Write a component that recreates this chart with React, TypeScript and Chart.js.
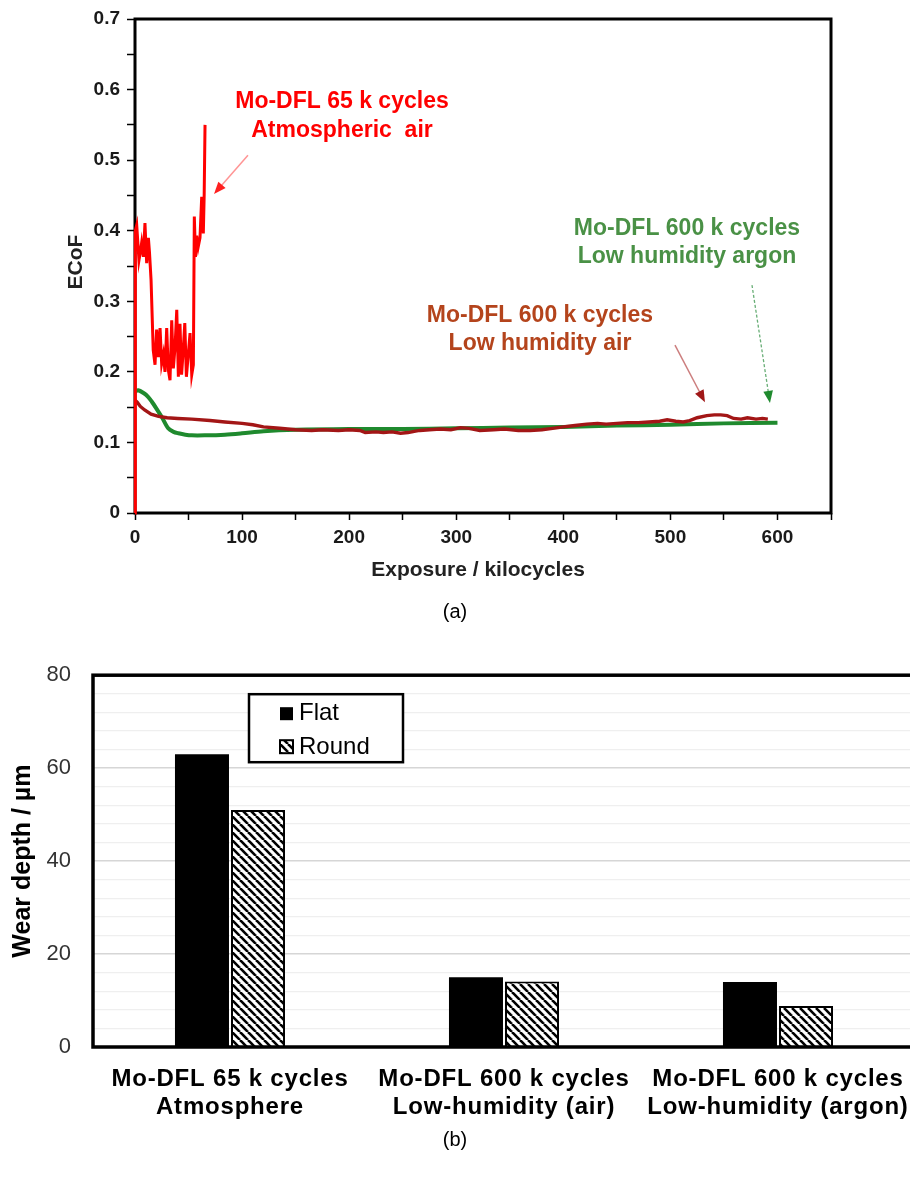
import React, { useEffect, useRef } from 'react';
import { Chart, registerables } from 'chart.js';

Chart.register(...registerables);

const FONT = '"Liberation Sans", Arial, Helvetica, sans-serif';

// ---- Panel (a): ECoF vs exposure ----
const redX = [0, 0.3, 1.6, 2.8, 3.7, 5, 6.2, 7.8, 9.3, 10.9, 12.5, 13.5, 15, 17, 18.7, 20.2, 21.8, 23.4, 24.9, 26.5, 28, 29.6, 31.1, 32.7, 34.3, 35.8, 37.4, 39, 40.5, 42, 43.5, 45, 46.5, 48, 49.5, 51.4, 53, 54.5, 55.4, 56.5, 57.6, 59, 60.7, 62.3, 63.8, 64.6, 65.4];
const redY = [0, 0.40, 0.408, 0.38, 0.358, 0.37, 0.383, 0.363, 0.411, 0.354, 0.39, 0.37, 0.33, 0.231, 0.21, 0.26, 0.221, 0.262, 0.212, 0.225, 0.2, 0.262, 0.203, 0.188, 0.273, 0.205, 0.235, 0.288, 0.193, 0.268, 0.196, 0.23, 0.269, 0.193, 0.22, 0.255, 0.196, 0.21, 0.42, 0.363, 0.393, 0.377, 0.39, 0.448, 0.396, 0.45, 0.55];

const airX = [0, 2, 5, 9, 15, 22, 30, 40, 53, 70, 84, 100, 110, 120, 135, 150, 165, 175, 190, 200, 210, 215, 225, 232, 240, 248, 255, 262, 266, 275, 285, 295, 304, 312, 322, 335, 345, 358, 369, 380, 390, 400, 411, 422, 432, 440, 450, 460, 470, 480, 490, 497, 505, 512, 518, 525, 534, 541, 547, 553, 559, 566, 572, 580, 586, 591];
const airY = [0.16, 0.157, 0.151, 0.146, 0.14, 0.137, 0.135, 0.134, 0.133, 0.131, 0.129, 0.127, 0.125, 0.122, 0.12, 0.118, 0.117, 0.118, 0.117, 0.118, 0.117, 0.114, 0.115, 0.114, 0.115, 0.113, 0.114, 0.116, 0.117, 0.118, 0.119, 0.118, 0.121, 0.12, 0.117, 0.118, 0.119, 0.117, 0.117, 0.118, 0.12, 0.122, 0.124, 0.126, 0.127, 0.126, 0.127, 0.128, 0.128, 0.129, 0.13, 0.132, 0.13, 0.129, 0.131, 0.135, 0.138, 0.139, 0.139, 0.138, 0.134, 0.133, 0.135, 0.133, 0.134, 0.133];

const argonX = [0, 3, 8, 12, 15.6, 20, 25, 31, 36, 40.5, 47, 53, 65, 84, 100, 120, 150, 200, 250, 300, 350, 400, 450, 500, 550, 600];
const argonY = [0.172, 0.174, 0.17, 0.165, 0.158, 0.148, 0.136, 0.12, 0.115, 0.113, 0.111, 0.11, 0.11, 0.111, 0.113, 0.116, 0.118, 0.119, 0.119, 0.12, 0.121, 0.122, 0.124, 0.125, 0.127, 0.128];

const redLabel = ['Mo-DFL 65 k cycles', 'Atmospheric  air'];
const airLabel = ['Mo-DFL 600 k cycles', 'Low humidity air'];
const argonLabel = ['Mo-DFL 600 k cycles', 'Low humidity argon'];

// ---- Panel (b): wear depth ----
const barCategories = [
  ['Mo-DFL 65 k cycles', 'Atmosphere'],
  ['Mo-DFL 600 k cycles', 'Low-humidity (air)'],
  ['Mo-DFL 600 k cycles', 'Low-humidity (argon)'],
];
const flatDepth = [63, 15, 14];
const roundDepth = [51, 14.1, 8.8];
const seriesNames = ['Flat', 'Round'];

function pts(xs: number[], ys: number[]) {
  const n = Math.min(xs.length, ys.length);
  const out: { x: number; y: number }[] = [];
  for (let i = 0; i < n; i++) out.push({ x: xs[i], y: ys[i] });
  return out;
}

function arrow(ctx: CanvasRenderingContext2D, x1: number, y1: number, x2: number, y2: number, lineColor: string, headColor: string, width: number, dash: number[], head: number) {
  const ang = Math.atan2(y2 - y1, x2 - x1);
  ctx.save();
  ctx.strokeStyle = lineColor;
  ctx.lineWidth = width;
  ctx.setLineDash(dash);
  ctx.beginPath();
  ctx.moveTo(x1, y1);
  ctx.lineTo(x2 - Math.cos(ang) * head * 0.8, y2 - Math.sin(ang) * head * 0.8);
  ctx.stroke();
  ctx.setLineDash([]);
  ctx.fillStyle = headColor;
  ctx.beginPath();
  ctx.moveTo(x2, y2);
  ctx.lineTo(x2 - head * Math.cos(ang - 0.38), y2 - head * Math.sin(ang - 0.38));
  ctx.lineTo(x2 - head * Math.cos(ang + 0.38), y2 - head * Math.sin(ang + 0.38));
  ctx.closePath();
  ctx.fill();
  ctx.restore();
}

function makeHatch(): CanvasPattern | string {
  const s = 8;
  const c = document.createElement('canvas');
  c.width = s;
  c.height = s;
  const g = c.getContext('2d');
  if (!g) return '#fff';
  g.fillStyle = '#fff';
  g.fillRect(0, 0, s, s);
  g.strokeStyle = '#000';
  g.lineWidth = 2.6;
  for (const o of [-s, 0, s]) {
    g.beginPath();
    g.moveTo(o, 0);
    g.lineTo(o + s, s);
    g.stroke();
  }
  const p = g.createPattern(c, 'repeat');
  return p || '#fff';
}

const topDecor = {
  id: 'topDecor',
  beforeDatasetsDraw(chart: any) {
    const { ctx, chartArea: a } = chart;
    ctx.save();
    ctx.strokeStyle = '#000';
    ctx.lineWidth = 3;
    ctx.strokeRect(a.left, a.top, a.right - a.left, a.bottom - a.top);
    ctx.restore();
  },
  afterDraw(chart: any) {
    const { ctx } = chart;
    const xs = chart.scales.x;
    const ys = chart.scales.y;
    const X = (v: number) => xs.getPixelForValue(v);
    const Y = (v: number) => ys.getPixelForValue(v);
    ctx.save();
    ctx.font = `bold 23px ${FONT}`;
    ctx.textAlign = 'center';
    ctx.textBaseline = 'alphabetic';
    ctx.fillStyle = '#ff0000';
    ctx.fillText(redLabel[0], X(193.3), Y(0.574));
    ctx.fillText(redLabel[1], X(193.3), Y(0.533));
    ctx.fillStyle = '#b4441c';
    ctx.fillText(airLabel[0], X(378.2), Y(0.271));
    ctx.fillText(airLabel[1], X(378.2), Y(0.231));
    ctx.fillStyle = '#4a9146';
    ctx.fillText(argonLabel[0], X(515.5), Y(0.394));
    ctx.fillText(argonLabel[1], X(515.5), Y(0.354));

    // axis titles
    ctx.fillStyle = '#222';
    ctx.font = `bold 21px ${FONT}`;
    ctx.textBaseline = 'middle';
    ctx.fillText('Exposure / kilocycles', (chart.chartArea.left + chart.chartArea.right) / 2 - 5, 570);
    ctx.save();
    ctx.translate(76, 262);
    ctx.rotate(-Math.PI / 2);
    ctx.fillText('ECoF', 0, 0);
    ctx.restore();

    ctx.font = `20px ${FONT}`;
    ctx.fillStyle = '#000';
    ctx.fillText('(a)', 455, 612);
    ctx.restore();

    arrow(ctx, X(105.5), Y(0.507), X(73.8), Y(0.452), 'rgba(255,60,60,0.55)', '#ff2020', 1.5, [], 13);
    arrow(ctx, X(504.3), Y(0.238), X(532.3), Y(0.157), 'rgba(170,40,40,0.6)', '#a01818', 1.5, [], 13);
    arrow(ctx, X(576.2), Y(0.323), X(593), Y(0.156), 'rgba(40,140,60,0.7)', '#1f8a2e', 1.3, [3, 2], 13);
  },
};

const bottomDecor = {
  id: 'bottomDecor',
  afterDatasetsDraw(chart: any) {
    const { ctx, chartArea: a } = chart;
    ctx.save();
    ctx.strokeStyle = '#000';
    ctx.lineWidth = 3.5;
    ctx.strokeRect(a.left, a.top, a.right - a.left, a.bottom - a.top);
    ctx.restore();
  },
  afterDraw(chart: any) {
    const { ctx } = chart;
    const xs = chart.scales.x;
    const ys = chart.scales.y;
    const top = ys.getPixelForValue(80);
    ctx.save();
    // x category labels
    ctx.fillStyle = '#000';
    ctx.font = `bold 24px ${FONT}`;
    (ctx as any).letterSpacing = '0.8px';
    ctx.textAlign = 'center';
    ctx.textBaseline = 'middle';
    barCategories.forEach((lines, i) => {
      const cx = xs.getPixelForValue(i);
      lines.forEach((t, j) => ctx.fillText(t, cx, 439 + j * 28));
    });
    (ctx as any).letterSpacing = '0px';

    // y title
    ctx.save();
    ctx.font = `bold 25px ${FONT}`;
    ctx.translate(23, (chart.chartArea.top + chart.chartArea.bottom) / 2);
    ctx.rotate(-Math.PI / 2);
    ctx.fillText('Wear depth / µm', 0, 0);
    ctx.restore();

    // (b)
    ctx.font = `20px ${FONT}`;
    ctx.fillText('(b)', 455, 500);

    // legend
    const lx = 249, ly = top + 19, lw = 154, lh = 68;
    ctx.fillStyle = '#fff';
    ctx.fillRect(lx, ly, lw, lh);
    ctx.strokeStyle = '#000';
    ctx.lineWidth = 2.5;
    ctx.strokeRect(lx, ly, lw, lh);
    ctx.fillStyle = '#000';
    ctx.fillRect(280, ly + 13, 13, 13);
    const ds = chart.data.datasets[1];
    ctx.fillStyle = ds.backgroundColor;
    ctx.fillRect(280, ly + 46, 13, 13);
    ctx.lineWidth = 2;
    ctx.strokeRect(280, ly + 46, 13, 13);
    ctx.fillStyle = '#000';
    ctx.font = `24px ${FONT}`;
    ctx.textAlign = 'left';
    ctx.textBaseline = 'alphabetic';
    ctx.fillText(seriesNames[0], 299, ly + 26);
    ctx.fillText(seriesNames[1], 299, ly + 60);
    ctx.restore();
  },
};

export default function App() {
  const topRef = useRef<HTMLCanvasElement>(null);
  const botRef = useRef<HTMLCanvasElement>(null);

  useEffect(() => {
    if (!topRef.current || !botRef.current) return;
    const tickFontTop = { family: FONT, size: 19, weight: 'bold' as const };

    const top = new Chart(topRef.current, {
      type: 'line',
      data: {
        datasets: [
          { label: 'Atmospheric air', data: pts(redX, redY), borderColor: '#ff0000', borderWidth: 3, pointRadius: 0, tension: 0, clip: 6 },
          { label: 'Low humidity air', data: pts(airX, airY), borderColor: '#a31616', borderWidth: 3.4, pointRadius: 0, tension: 0 },
          { label: 'Low humidity argon', data: pts(argonX, argonY), borderColor: '#1f8a2e', borderWidth: 4, pointRadius: 0, tension: 0.3 },
        ],
      },
      options: {
        responsive: false,
        animation: false,
        devicePixelRatio: 1,
        layout: { padding: { top: 19, right: 79, left: 0, bottom: 0 } },
        plugins: { legend: { display: false }, tooltip: { enabled: false } },
        scales: {
          x: {
            type: 'linear',
            min: 0,
            max: 650,
            afterFit: (s: any) => { s.height = 127; },
            border: { display: false },
            grid: { drawOnChartArea: false, drawTicks: true, tickLength: 7, tickColor: '#000', tickWidth: 1.5 },
            ticks: {
              stepSize: 50,
              autoSkip: false,
              maxRotation: 0,
              padding: 6,
              color: '#1a1a1a',
              font: tickFontTop,
              callback: (v: any) => (Math.round(v) % 100 === 0 ? String(Math.round(v)) : ''),
            },
          },
          y: {
            min: 0,
            max: 0.7,
            afterFit: (s: any) => { s.width = 135; },
            border: { display: false },
            grid: { drawOnChartArea: false, drawTicks: true, tickLength: 8, tickColor: '#000', tickWidth: 1.5 },
            ticks: {
              stepSize: 0.05,
              autoSkip: false,
              padding: 7,
              color: '#1a1a1a',
              font: tickFontTop,
              callback: (v: any) => {
                const r = Math.round(v * 100);
                if (r % 10 !== 0) return '';
                return r === 0 ? '0' : (r / 100).toFixed(1);
              },
            },
          },
        },
      },
      plugins: [topDecor],
    });

    const hatch = makeHatch();
    const bot = new Chart(botRef.current, {
      type: 'bar',
      data: {
        labels: barCategories.map((l) => l.join(' ')),
        datasets: [
          { label: seriesNames[0], data: flatDepth, backgroundColor: '#000', borderWidth: 0, categoryPercentage: 0.409, barPercentage: 0.964 },
          { label: seriesNames[1], data: roundDepth, backgroundColor: hatch as any, borderColor: '#000', borderWidth: 2, categoryPercentage: 0.409, barPercentage: 0.964 },
        ],
      },
      options: {
        responsive: false,
        animation: false,
        devicePixelRatio: 1,
        layout: { padding: { top: 33, right: 15, left: 0, bottom: 0 } },
        plugins: { legend: { display: false }, tooltip: { enabled: false } },
        scales: {
          x: {
            afterFit: (s: any) => { s.height = 142; },
            border: { display: false },
            grid: { display: false },
            ticks: { display: false },
          },
          y: {
            min: 0,
            max: 80,
            afterFit: (s: any) => { s.width = 93; },
            border: { display: false },
            grid: {
              drawTicks: false,
              color: (c: any) => (c.tick && c.tick.value % 20 === 0 ? '#d6d6d6' : '#efefef'),
              lineWidth: (c: any) => (c.tick && c.tick.value % 20 === 0 ? 1.5 : 1.2),
            },
            ticks: {
              stepSize: 4,
              autoSkip: false,
              padding: 22,
              color: '#333',
              font: { family: FONT, size: 22 },
              callback: (v: any) => (Math.round(v) % 20 === 0 ? String(Math.round(v)) : ''),
            },
          },
        },
      },
      plugins: [bottomDecor],
    });

    return () => {
      top.destroy();
      bot.destroy();
    };
  }, []);

  return (
    <div style={{ position: 'fixed', left: 0, top: 0, width: 910, height: 1189, overflow: 'hidden', background: '#fff' }}>
      <canvas ref={topRef} width={910} height={640} style={{ position: 'absolute', left: 0, top: 0, width: 910, height: 640 }} />
      <canvas ref={botRef} width={930} height={549} style={{ position: 'absolute', left: 0, top: 640, width: 930, height: 549 }} />
    </div>
  );
}
